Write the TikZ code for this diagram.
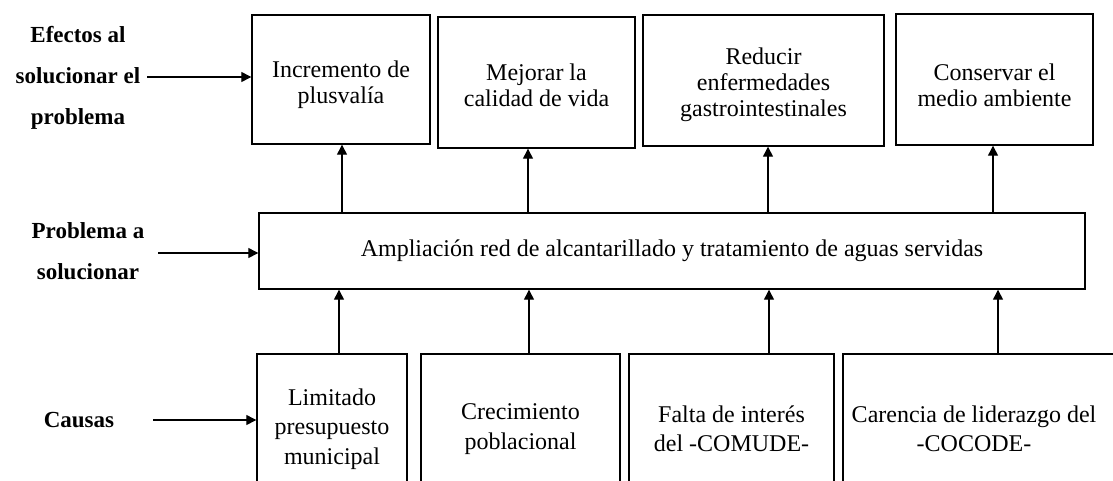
\documentclass[tikz,border=0pt]{standalone}
\usepackage{fontspec}
\setmainfont{Liberation Serif}
\usetikzlibrary{arrows.meta}
\begin{document}
\begin{tikzpicture}[x=1pt,y=-1pt,
  box/.style={draw, line width=1.4pt, inner sep=0pt, align=center,
    font=\fontsize{24}{26}\selectfont},
  cbox/.style={box, font=\fontsize{24}{29.5}\selectfont},
  ttxt/.style={inner sep=0pt, align=center, font=\fontsize{24}{26}\selectfont},
  txt/.style={inner sep=0pt, align=center, font=\fontsize{24}{29.5}\selectfont},
  lab/.style={inner sep=0pt, align=center, font=\fontsize{23}{41}\selectfont\bfseries},
  arr/.style={line width=1.3pt, -{Triangle[length=10pt,width=10pt]}}]
\useasboundingbox (0,0) rectangle (1113,480);
\clip (0,0) rectangle (1113,480);

% effects
\node[box, minimum width=178pt, minimum height=129pt] (T1) at (341,79.5) {};
\node[box, minimum width=197pt, minimum height=131pt] (T2) at (536.5,82.5) {};
\node[box, minimum width=241pt, minimum height=131pt] (T3) at (763.5,80.5) {};
\node[box, minimum width=197pt, minimum height=131pt] (T4) at (994.5,79.5) {};
\node[ttxt] (T1t) at (341,85) {Incremento de\\plusvalía};
\node[ttxt] (T2t) at (536.5,85) {Mejorar la\\calidad de vida};
\node[ttxt] (T3t) at (763.5,85) {Reducir\\enfermedades\\gastrointestinales};
\node[ttxt] (T4t) at (994.5,85) {Conservar el\\medio ambiente};

% problem
\node[box, minimum width=826pt, minimum height=76pt] (M) at (672,251) {Ampliación red de alcantarillado y tratamiento de aguas servidas};

% causes
\node[cbox, minimum width=150pt, minimum height=150pt] (B1) at (332,429) {Limitado\\presupuesto\\municipal};
\node[cbox, minimum width=199pt, minimum height=150pt] (B2) at (520.5,429) {Crecimiento\\poblacional};
\node[cbox, minimum width=205pt, minimum height=150pt] (B3) at (731.5,429) {Falta de interés\\del -COMUDE-};
\node[cbox, minimum width=282pt, minimum height=150pt] (B4) at (984,429) {};
\node[txt] (B4t) at (974,429) {Carencia de liderazgo del\\-COCODE-};

% left labels
\node[lab] (L1) at (78,78) {Efectos al\\solucionar el\\problema};
\node[lab] (L2) at (88,251) {Problema a\\solucionar};
\node[lab] (L3) at (79,420) {Causas};
\coordinate (a1) at (147,77);
\coordinate (a2) at (158,253);
\coordinate (a3) at (153,420);
\draw[arr] (a1) -- (a1 -| T1.west);
\draw[arr] (a2) -- (a2 -| M.west);
\draw[arr] (a3) -- (a3 -| B1.west);

% arrows problem -> effects
\draw[arr] (M.north -| 342,0) -- (T1.south -| 342,0);
\draw[arr] (M.north -| 528,0) -- (T2.south -| 528,0);
\draw[arr] (M.north -| 768,0) -- (T3.south -| 768,0);
\draw[arr] (M.north -| 993,0) -- (T4.south -| 993,0);

% arrows causes -> problem
\draw[arr] (B1.north -| 339,0) -- (M.south -| 339,0);
\draw[arr] (B2.north -| 529,0) -- (M.south -| 529,0);
\draw[arr] (B3.north -| 769,0) -- (M.south -| 769,0);
\draw[arr] (B4.north -| 998,0) -- (M.south -| 998,0);
\end{tikzpicture}
\end{document}
